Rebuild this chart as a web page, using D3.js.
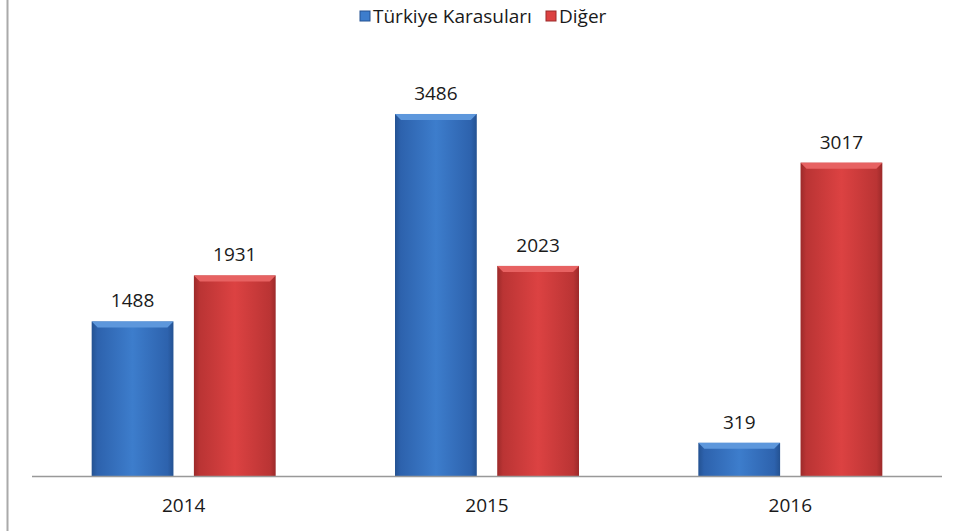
<!DOCTYPE html>
<meta charset="utf-8">
<style>
body { margin: 0; background: #fff; }
text { font-family: "Open Sans", "Liberation Sans", sans-serif; fill: #1a1a1a; }
</style>
<svg width="958" height="531"></svg>
<script src="https://d3js.org/d3.v7.min.js"></script>
<script>

var years = ["2014", "2015", "2016"];
var series = ["Türkiye Karasuları", "Diğer"];
var karasulari = [1488, 3486, 319];
var diger = [1931, 2023, 3017];

var svg = d3.select("svg"), width = +svg.attr("width"), height = +svg.attr("height");
var base = 476;

var x0 = d3.scaleBand().domain(years).range([32, 942]);
var x1 = d3.scaleBand().domain(series).range([0, 184]).paddingInner(0.2);
var off = (x0.bandwidth() - 184) / 2;
var y = d3.scaleLinear().domain([0, 4000]).range([base, 60.6]);

var colors = {
  "Türkiye Karasuları": {mid: "#3d7dcc", edge: "#2d62ad", top: "#5d97dc", dark: "#245292"},
  "Diğer": {mid: "#dc4242", edge: "#ba3434", top: "#e76262", dark: "#9c2a2a"}
};

var defs = svg.append("defs");
series.forEach(function(s, i) {
  var c = colors[s];
  var g = defs.append("linearGradient").attr("id", "g" + i).attr("x1", 0).attr("x2", 1).attr("y1", 0).attr("y2", 0);
  g.append("stop").attr("offset", "0").attr("stop-color", c.dark);
  g.append("stop").attr("offset", "0.07").attr("stop-color", c.edge);
  g.append("stop").attr("offset", "0.5").attr("stop-color", c.mid);
  g.append("stop").attr("offset", "0.93").attr("stop-color", c.edge);
  g.append("stop").attr("offset", "1").attr("stop-color", c.dark);
});

// left frame line
svg.append("line").attr("x1", 7.5).attr("x2", 7.5).attr("y1", 0).attr("y2", height)
  .attr("stroke", "#aaa").attr("stroke-width", 2);

var rows = [];
years.forEach(function(yr, i) {
  rows.push({year: yr, s: series[0], si: 0, v: karasulari[i]});
  rows.push({year: yr, s: series[1], si: 1, v: diger[i]});
});

var bars = svg.append("g").selectAll("g").data(rows).enter().append("g")
  .attr("transform", function(d) { return "translate(" + (x0(d.year) + off + x1(d.s)) + ",0)"; });

var bw = x1.bandwidth(), bev = 6;
bars.append("rect")
  .attr("x", 0).attr("width", bw)
  .attr("y", function(d) { return y(d.v); })
  .attr("height", function(d) { return base - y(d.v); })
  .attr("fill", function(d) { return "url(#g" + d.si + ")"; });

bars.append("path")
  .attr("d", function(d) {
    var t = y(d.v);
    return "M0," + t + "H" + bw + "L" + (bw - bev) + "," + (t + bev) + "H" + bev + "Z";
  })
  .attr("fill", function(d) { return colors[d.s].top; });

bars.append("text")
  .attr("x", bw / 2)
  .attr("y", function(d) { return y(d.v) - 14; })
  .attr("text-anchor", "middle")
  .attr("font-size", 19)
  .text(function(d) { return d.v; });

// baseline axis
svg.append("line").attr("x1", 32).attr("x2", 942).attr("y1", base + 0.5).attr("y2", base + 0.5)
  .attr("stroke", "#999").attr("stroke-width", 1.5);

svg.append("g").selectAll("text").data(years).enter().append("text")
  .attr("x", function(d) { return x0(d) + x0.bandwidth() / 2; })
  .attr("y", 512)
  .attr("text-anchor", "middle")
  .attr("font-size", 19)
  .text(function(d) { return d; });

// legend
var lg = svg.append("g");
var lx = [360, 546];
series.forEach(function(s, i) {
  var c = colors[s];
  lg.append("rect").attr("x", lx[i]).attr("y", 11).attr("width", 10).attr("height", 10)
    .attr("fill", c.mid).attr("stroke", c.dark).attr("stroke-width", 1);
  lg.append("text").attr("x", lx[i] + 13).attr("y", 23).attr("font-size", 19).text(s);
});

</script>
